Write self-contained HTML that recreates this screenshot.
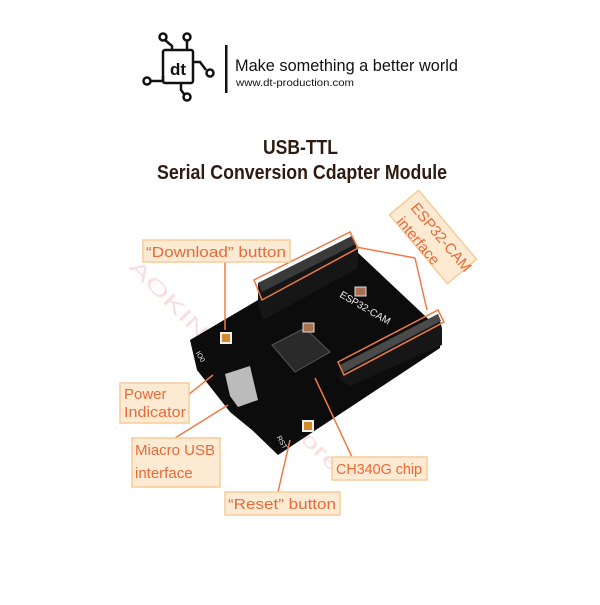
<!DOCTYPE html>
<html><head><meta charset="utf-8"><style>
body{margin:0;background:#fff;width:600px;height:600px;overflow:hidden}
</style></head><body>
<svg width="600" height="600" viewBox="0 0 600 600" xmlns="http://www.w3.org/2000/svg" font-family="Liberation Sans, sans-serif">
<!-- watermark -->
<text x="128" y="268" font-size="20" fill="#f8dede" transform="rotate(45 128 268)" textLength="290" lengthAdjust="spacingAndGlyphs">AOKIN Maker Store</text>
<!-- logo -->
<g stroke="#111" stroke-width="2.5" fill="none">
<rect x="163" y="50" width="30" height="33" rx="2"/>
<circle cx="163" cy="37" r="3.5"/><path d="M165 40 L172 46 V50"/>
<circle cx="187" cy="37" r="3.5"/><path d="M187 41 V50"/>
<circle cx="210" cy="73" r="3.5"/><path d="M193 62 H200 L206 70"/>
<circle cx="147" cy="81" r="3.5"/><path d="M151 81 H163 V76"/>
<circle cx="187" cy="97" r="3.5"/><path d="M181 83 V90 L184 94"/>
</g>
<text x="170" y="75" font-size="17" font-weight="bold" fill="#111">dt</text>
<rect x="225" y="45" width="2.5" height="48" fill="#111"/>
<text x="235" y="71" font-size="16.5" fill="#111" textLength="223" lengthAdjust="spacingAndGlyphs">Make something a better world</text>
<text x="236" y="86" font-size="10.5" fill="#111" textLength="118" lengthAdjust="spacingAndGlyphs">www.dt-production.com</text>
<text x="263" y="154" font-size="20" font-weight="bold" fill="#2e1a10" textLength="75" lengthAdjust="spacingAndGlyphs">USB-TTL</text>
<text x="157" y="179" font-size="20" font-weight="bold" fill="#2e1a10" textLength="290" lengthAdjust="spacingAndGlyphs">Serial Conversion Cdapter Module</text>
<!-- board -->
<polygon points="190,340 258,300 355,250 440,330 440,348 278,455 252,430 230,412 197,370" fill="#0c0c0c"/>
<polygon points="258,283 352,236 358,250 358,268 263,320 258,305" fill="#161616"/>
<polygon points="258,283 352,236 356,244 262,292" fill="#3a3a3a"/>
<polygon points="340,365 438,314 442,328 442,345 350,386 340,380" fill="#161616"/>
<polygon points="340,365 438,314 441,321 344,372" fill="#4a4a4a"/>
<!-- chip -->
<polygon points="272,345 305,328 330,352 295,372" fill="#2a2a2a" stroke="#555"/>
<polygon points="225,374 250,366 258,400 238,407 230,396" fill="#bbb"/>
<rect x="221" y="333" width="10" height="10" fill="#d28a2a" stroke="#eee" stroke-width="2"/>
<rect x="303" y="421" width="10" height="10" fill="#d28a2a" stroke="#eee" stroke-width="2"/>
<rect x="303" y="323" width="11" height="9" fill="#a87050" stroke="#ddd"/>
<rect x="355" y="287" width="11" height="9" fill="#a87050" stroke="#ddd"/>
<text x="338" y="300" font-size="10" fill="#eee" transform="rotate(30 345 300)">ESP32-CAM</text>
<text x="195" y="356" font-size="7" fill="#eee" transform="rotate(60 198 355)">IO0</text>
<text x="275" y="440" font-size="7" fill="#eee" transform="rotate(60 278 440)">RST</text>
<!-- outline boxes -->
<g stroke="#f07a45" stroke-width="1.5" fill="none">
<polygon points="254,280 350,232 358,248 262,300"/>
<polygon points="338,362 438,310 444,322 344,375"/>
<line x1="356" y1="247" x2="415" y2="258"/>
<line x1="415" y1="258" x2="427" y2="310"/>
<line x1="225" y1="262" x2="225" y2="330"/>
<line x1="188" y1="395" x2="213" y2="375"/>
<line x1="175" y1="438" x2="228" y2="405"/>
<line x1="278" y1="492" x2="290" y2="440"/>
<line x1="352" y1="457" x2="315" y2="378"/>
</g>
<!-- labels -->
<g fill="#fdead2" stroke="#f6cc98" stroke-width="1.5">
<rect x="143" y="240" width="147" height="22"/>
<rect x="120" y="383" width="69" height="40"/>
<rect x="132" y="438" width="88" height="49"/>
<rect x="225" y="492" width="115" height="23"/>
<rect x="332" y="457" width="95" height="23"/>
<rect x="388" y="218" width="90" height="38" transform="rotate(50 433 237)"/>
</g>
<g fill="#e8693a" font-size="15">
<text x="146" y="257" textLength="140" lengthAdjust="spacingAndGlyphs">“Download” button</text>
<text x="124" y="399">Power</text>
<text x="124" y="417" textLength="62" lengthAdjust="spacingAndGlyphs">Indicator</text>
<text x="135" y="455" textLength="80" lengthAdjust="spacingAndGlyphs">Miacro USB</text>
<text x="135" y="478">interface</text>
<text x="228" y="509" textLength="108" lengthAdjust="spacingAndGlyphs">“Reset” button</text>
<text x="336" y="474" textLength="86" lengthAdjust="spacingAndGlyphs">CH340G chip</text>
<text x="0" y="0" transform="translate(410,208) rotate(50)">ESP32-CAM</text>
<text x="0" y="0" transform="translate(396,222) rotate(50)">interface</text>
</g>
</svg>
</body></html>
